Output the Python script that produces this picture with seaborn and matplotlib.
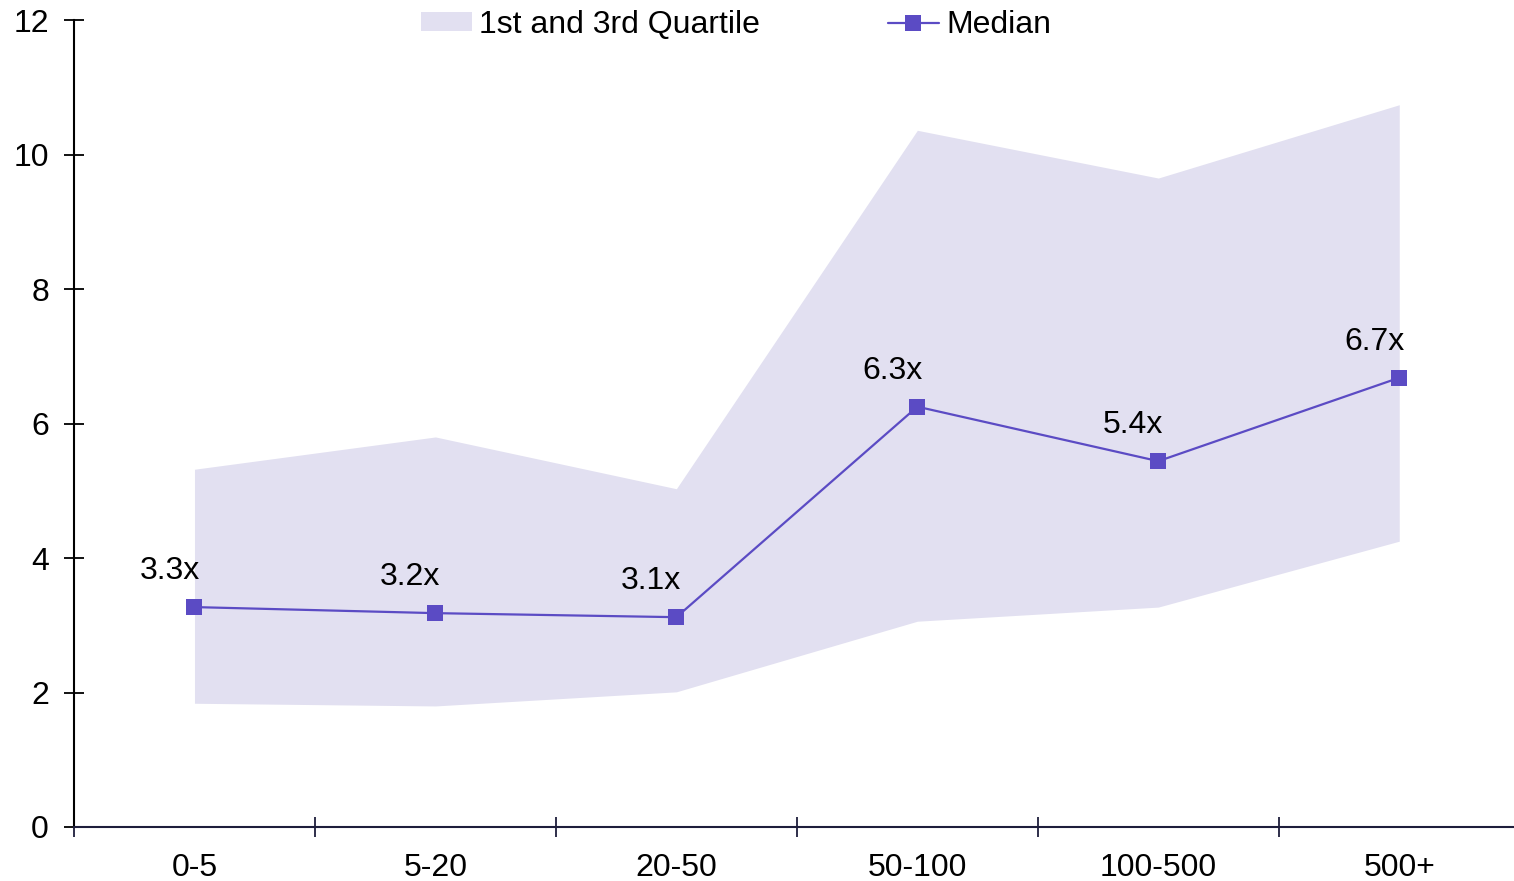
import matplotlib
matplotlib.use("Agg")
import matplotlib.pyplot as plt
import seaborn as sns
import pandas as pd
import numpy as np
from matplotlib.ticker import FixedLocator, NullFormatter
from matplotlib.patches import Patch
from matplotlib.lines import Line2D

categories = ["0-5", "5-20", "20-50", "50-100", "100-500", "500+"]
q1 = [1.84, 1.80, 2.01, 3.06, 3.27, 4.25]
q3 = [5.32, 5.80, 5.03, 10.36, 9.65, 10.74]
median = [3.27, 3.18, 3.12, 6.25, 5.44, 6.68]
labels = ["3.3x", "3.2x", "3.1x", "6.3x", "5.4x", "6.7x"]

sns.set_style("white")
plt.rcParams['font.family'] = ['Liberation Sans', 'DejaVu Sans']
plt.rcParams['text.color'] = 'black'
plt.rcParams['xtick.color'] = 'black'
plt.rcParams['ytick.color'] = 'black'

fill_color = "#E2E0F1"
line_color = "#5B4BC4"
axis_navy = "#1E1E3C"
FS = 23

W, H = 1514, 881
fig = plt.figure(figsize=(W / 100, H / 100), dpi=100)
ax = fig.add_axes([74 / W, (881 - 827) / H, (W - 74) / W, (827 - 20) / H])

x = np.arange(len(categories))
df = pd.DataFrame({"x": x, "median": median})

ax.fill_between(x, q1, q3, color=fill_color, linewidth=0, zorder=1)
sns.lineplot(data=df, x="x", y="median", ax=ax, color=line_color, linewidth=1.6,
             marker="s", markersize=11, markeredgewidth=0, zorder=3, legend=False)

for xi, yi, lab in zip(x, median, labels):
    ax.annotate(lab, (xi, yi), xytext=(-18, 26), textcoords="offset points",
                ha="center", va="center", fontsize=FS, color="black")

ax.set_xlim(-0.5, 5.5 - 6 / 1514 * 6)
ax.set_ylim(0, 12)
ax.set_yticks(np.arange(0, 13, 2))
ax.set_xlabel("")
ax.set_ylabel("")

ax.xaxis.set_major_locator(FixedLocator(np.arange(-0.5, 5.0, 1.0)))
ax.xaxis.set_major_formatter(NullFormatter())
ax.xaxis.set_minor_locator(FixedLocator(x))
ax.set_xticklabels(categories, minor=True)
ax.tick_params(axis="x", which="major", bottom=True, direction="inout", length=14,
               width=1.3, color=axis_navy)
ax.tick_params(axis="x", which="minor", bottom=True, length=0, pad=19, labelsize=FS,
               labelcolor="black")
ax.tick_params(axis="y", which="major", left=True, direction="inout", length=14, width=1.3,
               color="black", pad=11, labelsize=FS, labelcolor="black")

for s in ["top", "right"]:
    ax.spines[s].set_visible(False)
ax.spines["left"].set_color("black")
ax.spines["left"].set_linewidth(1.5)
ax.spines["bottom"].set_color(axis_navy)
ax.spines["bottom"].set_linewidth(1.5)
ax.grid(False)

handles = [Patch(facecolor=fill_color, edgecolor="none"),
           Line2D([0], [0], color=line_color, linewidth=1.6, marker="s",
                  markersize=11, markeredgewidth=0)]
leg = fig.legend(handles, ["1st and 3rd Quartile", "Median"], loc="center",
                 bbox_to_anchor=(736 / W, 1 - 25 / H), ncol=2, frameon=False,
                 fontsize=FS, handlelength=1.6, handleheight=0.55, handletextpad=0.22,
                 columnspacing=4.0)
for t in leg.get_texts():
    t.set_color("black")

fig.savefig("out.png", dpi=100)
